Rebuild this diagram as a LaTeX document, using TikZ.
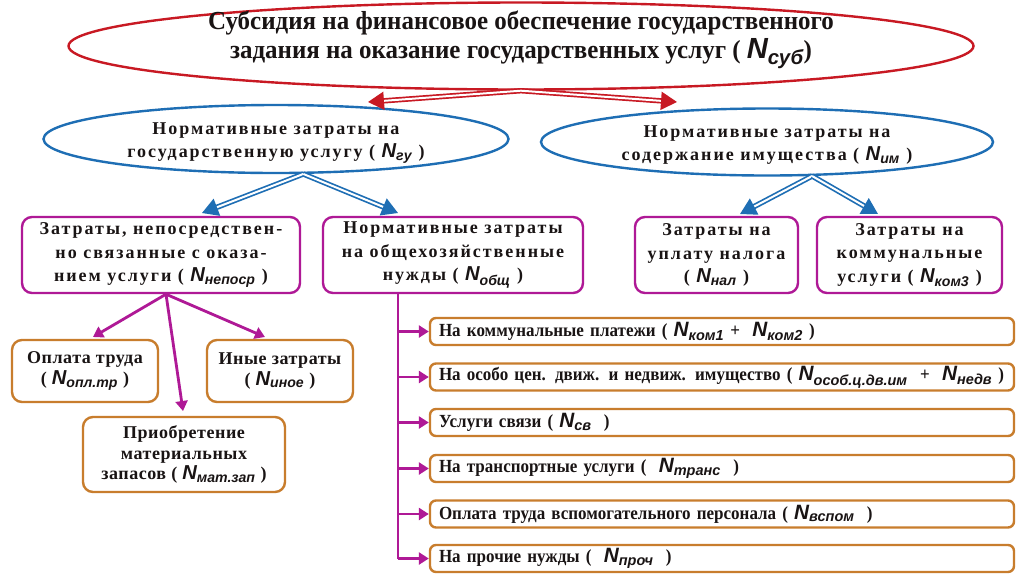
\documentclass[tikz,border=0pt]{standalone}
\usepackage{fontspec}
\setmainfont{Liberation Serif}
\newfontfamily\sfN{Liberation Sans Bold Italic}[Scale=1.12]
\newfontfamily\condfont{Liberation Serif Bold}[FakeStretch=0.96]
\newfontfamily\spfont{Liberation Serif Bold}[LetterSpace=11]
\newfontfamily\obfont{Liberation Serif Bold}[LetterSpace=3]
\newfontfamily\listfam{Liberation Serif Bold}[FakeStretch=0.92]
\usetikzlibrary{shapes.geometric,arrows.meta}
\definecolor{cred}{RGB}{200,25,35}
\definecolor{cblue}{RGB}{30,110,180}
\definecolor{cmag}{RGB}{175,25,150}
\definecolor{corange}{RGB}{200,125,45}
\definecolor{ctext}{RGB}{25,20,20}
\newcommand\Nv[1]{{\sfN N\textsubscript{#1}}}
\begin{document}
\begin{tikzpicture}[x=1pt,y=-1pt,
  every node/.style={inner sep=0pt, text=ctext},
  ell/.style={ellipse, draw, line width=2.4pt},
  elltext/.style={align=center, font=\spfont\fontsize{18}{23.5}\selectfont},
  mbox/.style={draw=cmag, line width=2.4pt, rounded corners=10pt, align=center,
    font=\spfont\fontsize{18}{23.5}\selectfont},
  obox/.style={draw=corange, line width=2.4pt, rounded corners=10pt, align=center,
    font=\obfont\fontsize{18}{20.5}\selectfont},
  lbox/.style={draw=corange, line width=2.4pt, rounded corners=6pt,
    minimum width=584pt, minimum height=27pt, text width=566pt, align=left,
    inner xsep=9pt, font=\listfam\fontsize{18.5}{20}\selectfont},
  rarr/.style={draw=cred, double=white, double distance=2pt, line width=1.7pt,
    -{Triangle[length=16pt,width=18pt]}},
  barr/.style={draw=cblue, double=white, double distance=2pt, line width=1.7pt,
    -{Triangle[length=16pt,width=18pt]}},
  mline/.style={draw=cmag, line width=2.8pt},
  marr/.style={draw=cmag, line width=2.8pt, -{Triangle[length=10pt,width=12pt]}},
]
\useasboundingbox (0,0) rectangle (1024,574);
\fill[white] (0,0) rectangle (1024,574);

% top ellipse
\node[ell, draw=cred, minimum width=905pt, minimum height=87pt] (top) at (521,46) {};
\node[align=center, font=\condfont\fontsize{26}{29}\selectfont] (toptext) at (521,40)
  {Субсидия на финансовое обеспечение государственного\\
   задания на оказание государственных услуг ( \Nv{суб})};

% second level ellipses
\node[ell, draw=cblue, minimum width=465pt, minimum height=68pt] (gy) at (276,139) {};
\node[elltext] (gyt) at (276,143)
  {Нормативные затраты на\\государственную услугу ( \Nv{гу} )};
\node[ell, draw=cblue, minimum width=452pt, minimum height=67pt] (im) at (767,142) {};
\node[elltext] (imt) at (767,145)
  {Нормативные затраты на\\содержание имущества ( \Nv{им} )};

% third level boxes
\node[mbox, minimum width=278pt, minimum height=76pt] (b1) at (161,255)
  {Затраты, непосредствен-\\но связанные с оказа-\\нием услуги ( \Nv{непоср} )};
\node[mbox, minimum width=260pt, minimum height=76pt] (b2) at (453,255)
  {Нормативные затраты\\на общехозяйственные\\нужды ( \Nv{общ} )};
\node[mbox, minimum width=163pt, minimum height=76pt] (b3) at (716.5,255)
  {Затраты на\\уплату налога\\( \Nv{нал} )};
\node[mbox, minimum width=185pt, minimum height=76pt] (b4) at (909.5,255)
  {Затраты на\\коммунальные\\услуги ( \Nv{ком3} )};

% orange boxes
\node[obox, minimum width=146pt, minimum height=62pt] (o1) at (85,371)
  {Оплата труда\\( \Nv{опл.тр} )};
\node[obox, minimum width=146pt, minimum height=62pt] (o2) at (280,371)
  {Иные затраты\\( \Nv{иное} )};
\node[obox, minimum width=202pt, minimum height=75pt] (o3) at (184,454.5)
  {Приобретение\\материальных\\запасов ( \Nv{мат.зап} )};

% list boxes
\node[lbox] (l1) at (722,331.5) {На коммунальные платежи ( \Nv{ком1} +\ \ \Nv{ком2} )};
\node[lbox] (l2) at (722,377) {На особо цен. движ. и недвиж. имущество ( \Nv{особ.ц.дв.им} \ +\ \ \Nv{недв} )};
\node[lbox] (l3) at (722,422.5) {Услуги связи ( \Nv{св} \ )};
\node[lbox] (l4) at (722,468.5) {На транспортные услуги ( \ \Nv{транс} \ )};
\node[lbox] (l5) at (722,514) {Оплата труда вспомогательного персонала ( \Nv{вспом} \ )};
\node[lbox] (l6) at (722,558.5) {На прочие нужды ( \ \Nv{проч} \ )};

% arrow end points
\coordinate (t1) at (368,102);
\coordinate (t2) at (677,102);
\coordinate (g1) at (202,213);
\coordinate (g2) at (398,213);
\coordinate (i1) at (740,214);
\coordinate (i2) at (878,214);
\coordinate (m1) at (93,337);
\coordinate (m2) at (183,411);
\coordinate (m3) at (265,337);

\draw[rarr] (top.south) -- (t1);
\draw[rarr] (top.south) -- (t2);
\draw[barr] (gy.-52) -- (g1);
\draw[barr] (gy.-52) -- (g2);
\draw[barr] (im.-37) -- (i1);
\draw[barr] (im.-37) -- (i2);
\draw[marr] ([xshift=5pt]b1.south) -- (m1);
\draw[marr] ([xshift=5pt]b1.south) -- (m2);
\draw[marr] ([xshift=5pt]b1.south) -- (m3);

\coordinate (v) at ([xshift=-55pt]b2.south);
\draw[mline] (v) -- (v |- l6.west);
\foreach \n in {l1,l2,l3,l4,l5,l6}
  \draw[marr] (v |- \n.west) -- (\n.west);
\end{tikzpicture}
\end{document}
